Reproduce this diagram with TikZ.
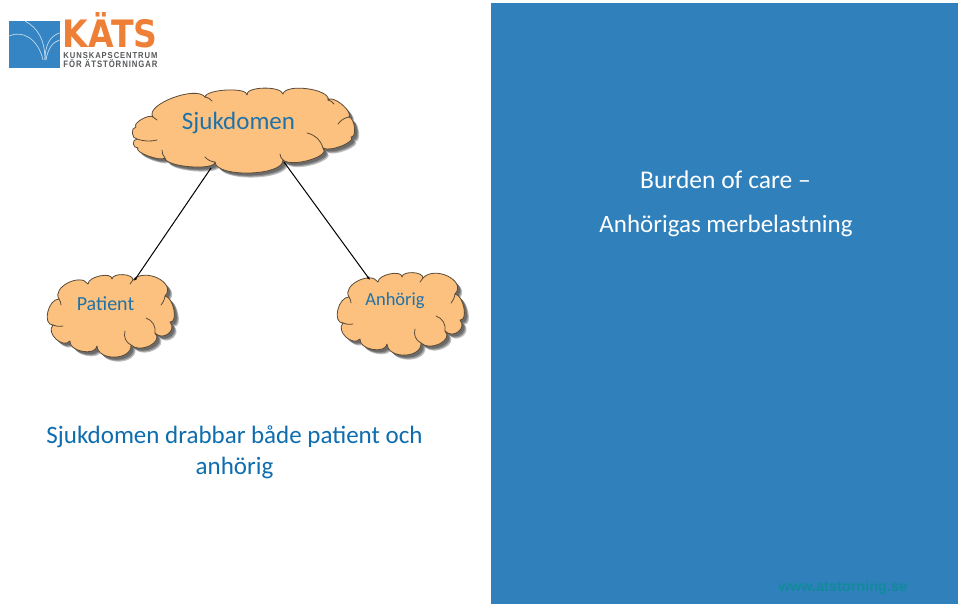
\documentclass[tikz,border=0pt]{standalone}
\usepackage{fontspec}
\usepackage{graphicx}
\usetikzlibrary{arrows.meta}
\setmainfont{Carlito}
\newfontfamily\logofont{DejaVu Sans}
\newfontfamily\logosmall[LetterSpace=12]{Liberation Sans}
\definecolor{panelblue}{HTML}{3080BB}
\definecolor{cloudfill}{HTML}{FDC17F}
\definecolor{cloudedge}{HTML}{5A4A38}
\definecolor{labelblue}{HTML}{1F72A8}
\definecolor{captionblue}{HTML}{0E6DAE}
\definecolor{urlteal}{HTML}{118A9C}
\definecolor{logoorange}{HTML}{EE7F36}
\definecolor{logoblue}{HTML}{3585C4}
\definecolor{logogray}{HTML}{55585A}
\tikzset{
  cloudline/.style={draw=cloudedge,line width=0.8pt,fill=cloudfill,line join=round},
  cloudinner/.style={draw=cloudedge,line width=0.8pt,line cap=round},
  cloudshade/.style={fill=black,opacity=0.25},
  cloudlabel/.style={text=labelblue,inner sep=0pt},
  linkline/.style={draw=black,line width=1pt,-{Latex[length=3.5pt,width=3pt]}},
  leafline/.style={draw=white!70!logoblue,line width=0.7pt},
  plain/.style={inner sep=0pt,align=center}
}
% cloud outlines, reference pixels
\newcommand{\bigcloud}{(136,127) .. controls (132,123.5) and (149,113.5) .. (153,117) .. controls (144,105) and (196,85) .. (205,97) .. controls (206,89) and (248,87) .. (247,95) .. controls (245,86.5) and (281,85.5) .. (283,94) .. controls (285.5,83) and (330.5,89) .. (328,100) .. controls (333,94.5) and (353,111.5) .. (349,117) .. controls (355,118) and (357,138) .. (351,137) .. controls (357,141.5) and (329.5,152.5) .. (323,148) .. controls (332,156) and (292,168) .. (283,160) .. controls (284,176) and (216,178) .. (215,162) .. controls (215,171) and (165,167) .. (165,158) .. controls (160.5,162) and (133.5,152) .. (138,148) .. controls (132.5,148.5) and (131.5,139.5) .. (137,139) .. controls (132,139.5) and (130,127.5) .. (136,127) -- cycle}
\newcommand{\smallcloud}{(53,325) .. controls (42,325) and (48,299) .. (59,299) .. controls (51.5,287.5) and (80.5,272.5) .. (88,284) .. controls (88,276.5) and (112,271.5) .. (112,279) .. controls (112.5,272.5) and (133.5,273.5) .. (133,280) .. controls (145,267) and (177,283) .. (165,296) .. controls (173.5,297) and (178.5,323) .. (170,322) .. controls (177.5,330.5) and (162.5,341.5) .. (155,333) .. controls (164,342) and (140,354) .. (131,345) .. controls (132,360.5) and (98,361.5) .. (97,346) .. controls (95.5,356.5) and (68.5,351.5) .. (70,341) .. controls (62.5,349) and (45.5,333) .. (53,325) -- cycle}
\newcommand{\drawcloud}[1]{%
  \foreach \dd in {4.5,3.5,2.5}{\fill[cloudshade,shift={(\dd pt,-\dd pt)}] #1;}
  \path[cloudline] #1;}
\newcommand{\smallinner}{%
  \draw[cloudinner] (59,299) to[bend left=15] (61,305);
  \draw[cloudinner] (53,325) to[bend right=15] (63,326);
  \draw[cloudinner] (155,333) to[bend right=40] (146,318);
  \draw[cloudinner] (131,345) to[bend left=40] (125,331);
  \draw[cloudinner] (165,296) to[bend left=15] (161,305);
  \draw[cloudinner] (133,280) to[bend left=15] (130,284);}
\begin{document}
\begin{tikzpicture}[x=1pt,y=-1pt]
\useasboundingbox[fill=white] (0,0) rectangle (960,608);
% panel
\fill[panelblue] (491,3) rectangle (958,604);
\node[plain,text=white,font=\fontsize{25.5}{30}\selectfont] (burden) at (725.5,179.5) {Burden of care --};
\node[plain,text=white,font=\fontsize{25}{30}\selectfont] (merb) at (726,226) {Anhörigas merbelastning};
\node[plain,text=urlteal,font=\fontsize{14.5}{18}\fontspec{Liberation Sans}\bfseries] (url) at (843,587.5) {www.atstorning.se};
% logo
\fill[logoblue] (9,21) rectangle (60,68);
\draw[leafline] (25,21) .. controls (38,28) and (45,40) .. (45,60);
\draw[leafline] (9,36) .. controls (22,30) and (38,38) .. (43,60);
\draw[leafline] (59.5,33) .. controls (50,36) and (45,45) .. (45,60);
\draw[leafline] (59.5,40) .. controls (53,42) and (48,48) .. (46,60);
\node[plain,text=logoorange] (kats) at (110,30) {\resizebox{95pt}{35pt}{\logofont\bfseries KÄTS}};
\node[plain,text=logogray] (kun) at (110.5,55.5) {\resizebox{94pt}{6pt}{\logosmall\bfseries KUNSKAPSCENTRUM}};
\node[plain,text=logogray] (for) at (110.5,64) {\resizebox{94pt}{8pt}{\logosmall\bfseries FÖR ÄTSTÖRNINGAR}};
% clouds
\drawcloud{\bigcloud}
\drawcloud{\smallcloud}
\begin{scope}[shift={(290,-2)}]
\drawcloud{\smallcloud}
\smallinner
\end{scope}
\smallinner
\draw[cloudinner] (153,117) to[bend left=15] (157,120);
\draw[cloudinner] (205,97) to[bend left=20] (212,101);
\draw[cloudinner] (328,100) to[bend left=20] (334,104);
\draw[cloudinner] (349,117) to[bend right=20] (338,124);
\draw[cloudinner] (307,133) to[bend left=30] (323,148);
\draw[cloudinner] (137,139) to[bend right=15] (157,140);
\draw[cloudinner] (165,158) to[bend left=20] (162,150);
\draw[cloudinner] (283,160) to[bend left=20] (280,154);
\draw[cloudinner] (215,162) to[bend left=20] (205,157);
% connectors
\coordinate (a1) at (211,168);
\coordinate (a2) at (134,281);
\coordinate (b1) at (284,162);
\coordinate (b2) at (370,280);
\draw[linkline] (a1) -- (a2);
\draw[linkline] (b1) -- (b2);
% labels
\node[cloudlabel,font=\fontsize{25}{30}\selectfont] (sj) at (238.5,123) {Sjukdomen};
\node[cloudlabel,font=\fontsize{20}{24}\selectfont] (pat) at (105.5,304) {Patient};
\node[cloudlabel,font=\fontsize{18.5}{22}\selectfont] (anh) at (395,301) {Anhörig};
% caption
\node[plain,text=captionblue,font=\fontsize{25}{31}\selectfont] (cap) at (234.5,452.5) {Sjukdomen drabbar både patient och\\anhörig};
\end{tikzpicture}
\end{document}
